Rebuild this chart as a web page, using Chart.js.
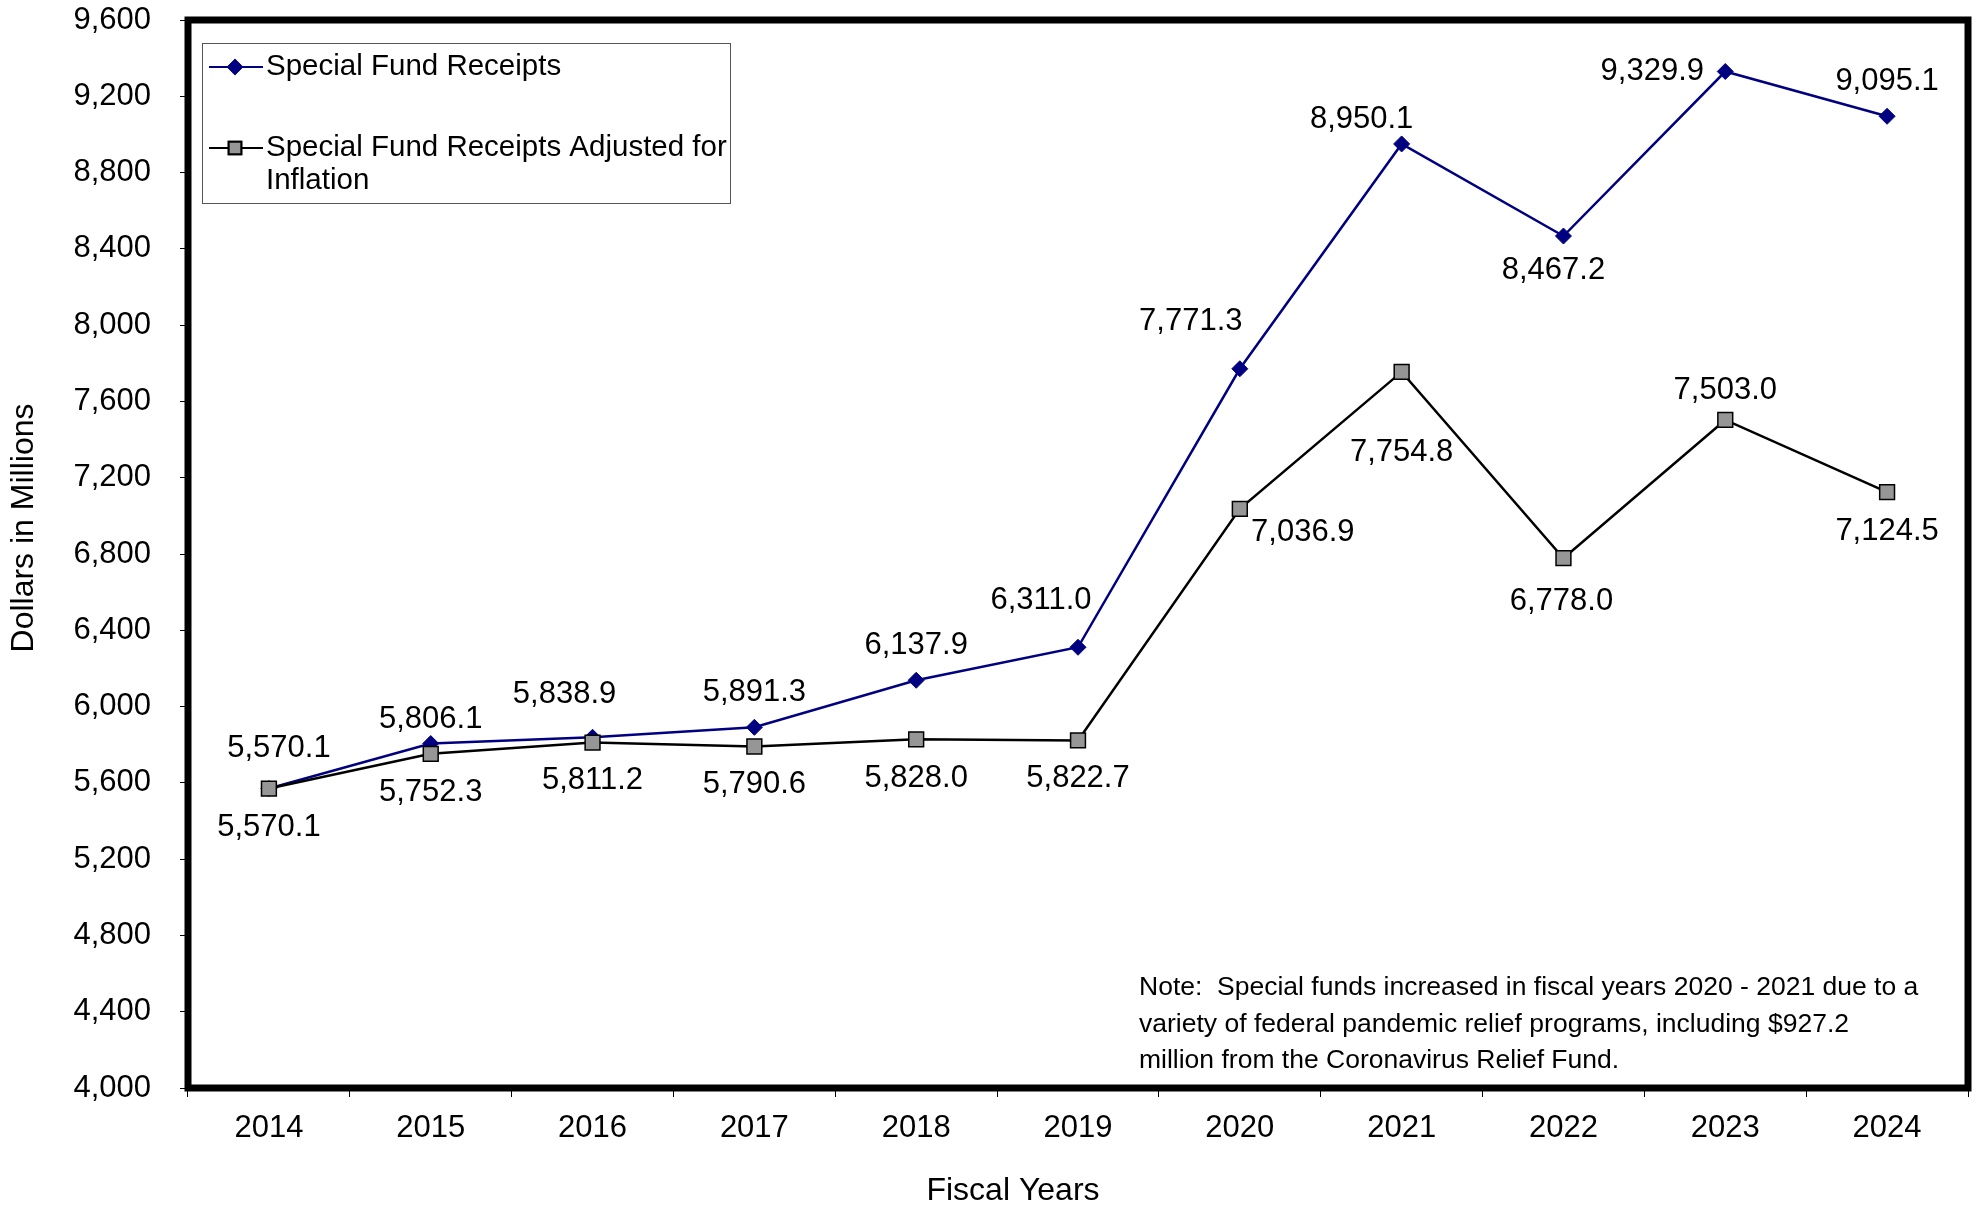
<!DOCTYPE html>
<html>
<head>
<meta charset="utf-8">
<script src="https://cdn.jsdelivr.net/npm/chart.js@4.4.1/dist/chart.umd.min.js"></script>
<style>
  html, body { margin: 0; padding: 0; background: #fff; }
  #wrap { width: 1980px; height: 1209px; }
</style>
</head>
<body>
<div id="wrap"><canvas id="miChart" width="1980" height="1209"></canvas></div>
<script>
// Datos del grafico
const fiscalYears = ['2014', '2015', '2016', '2017', '2018', '2019', '2020', '2021', '2022', '2023', '2024'];
const specialFundReceipts = [5570.1, 5806.1, 5838.9, 5891.3, 6137.9, 6311.0, 7771.3, 8950.1, 8467.2, 9329.9, 9095.1];
const adjustedForInflation = [5570.1, 5752.3, 5811.2, 5790.6, 5828.0, 5822.7, 7036.9, 7754.8, 6778.0, 7503.0, 7124.5];
const yTickValues = [4000, 4400, 4800, 5200, 5600, 6000, 6400, 6800, 7200, 7600, 8000, 8400, 8800, 9200, 9600];
const noteLines = [
  'Note:  Special funds increased in fiscal years 2020 - 2021 due to a',
  'variety of federal pandemic relief programs, including $927.2',
  'million from the Coronavirus Relief Fund.'
];

// Desplazamiento de etiquetas [dx, dy] respecto a cada punto
const labelOffsetsReceipts = [[10, -40], [0, -24], [-28, -43], [0, -35], [0, -35], [-37, -47], [-49, -47], [-40, -24], [-10, 34], [-73, 0], [0, -35]];
const labelOffsetsAdjusted = [[0, 39], [0, 39], [0, 38], [0, 38], [0, 39], [0, 38], [63, 24], [0, 81], [-2, 43], [0, -29], [0, 39]];

const FONT = 'Liberation Sans, Arial, sans-serif';
const fmt1 = v => v.toLocaleString('en-US', { minimumFractionDigits: 1, maximumFractionDigits: 1 });

// Marco negro grueso alrededor del area
const framePlugin = {
  id: 'frame',
  beforeDatasetsDraw(chart) {
    const { ctx, chartArea: a } = chart;
    ctx.save();
    ctx.strokeStyle = '#000';
    ctx.lineWidth = 7;
    ctx.strokeRect(a.left, a.top, a.right - a.left, a.bottom - a.top);
    ctx.restore();
  }
};

// Etiquetas de valores
const valueLabels = {
  id: 'valueLabels',
  afterDatasetsDraw(chart) {
    const { ctx } = chart;
    ctx.save();
    ctx.font = '31px ' + FONT;
    ctx.fillStyle = '#000';
    ctx.textAlign = 'center';
    ctx.textBaseline = 'middle';
    chart.data.datasets.forEach((ds, i) => {
      const meta = chart.getDatasetMeta(i);
      meta.data.forEach((pt, j) => {
        const [dx, dy] = ds.labelOffsets[j];
        ctx.fillText(fmt1(ds.data[j]), pt.x + dx, pt.y + dy);
      });
    });
    ctx.restore();
  }
};

// Leyenda dentro del area, titulos de ejes y nota
const boxLegend = {
  id: 'boxLegend',
  afterDraw(chart) {
    const { ctx } = chart;
    ctx.save();
    ctx.fillStyle = '#fff';
    ctx.fillRect(202, 43, 528, 160);
    ctx.strokeStyle = '#555';
    ctx.lineWidth = 1;
    ctx.strokeRect(202.5, 43.5, 528, 160);
    const rows = [
      { ds: chart.data.datasets[0], y: 67, lines: ['Special Fund Receipts'] },
      { ds: chart.data.datasets[1], y: 148, lines: ['Special Fund Receipts Adjusted for', 'Inflation'] }
    ];
    rows.forEach(r => {
      ctx.strokeStyle = r.ds.borderColor;
      ctx.lineWidth = 2;
      ctx.beginPath();
      ctx.moveTo(209, r.y);
      ctx.lineTo(263, r.y);
      ctx.stroke();
      Chart.helpers.drawPoint(ctx, {
        pointStyle: r.ds.pointStyle,
        radius: r.ds.pointRadius * 0.85,
        borderWidth: 1
      }, 235, r.y);
      ctx.fillStyle = r.ds.pointBackgroundColor;
      ctx.fill();
      ctx.strokeStyle = r.ds.pointBorderColor;
      ctx.stroke();
      ctx.fillStyle = '#000';
      ctx.font = '29.5px ' + FONT;
      ctx.textAlign = 'left';
      ctx.textBaseline = 'middle';
      r.lines.forEach((t, k) => ctx.fillText(t, 266, r.y + k * 33));
    });
    // titulos de ejes
    ctx.font = '32px ' + FONT;
    ctx.fillStyle = '#000';
    ctx.textAlign = 'center';
    ctx.textBaseline = 'middle';
    ctx.fillText('Fiscal Years', 1013, 1191);
    ctx.save();
    ctx.translate(24, 528);
    ctx.rotate(-Math.PI / 2);
    ctx.fillText('Dollars in Millions', 0, 0);
    ctx.restore();
    // nota
    ctx.font = '26.5px ' + FONT;
    ctx.textAlign = 'left';
    noteLines.forEach((t, k) => ctx.fillText(t, 1139, 988 + k * 36.5));
    ctx.restore();
  }
};

const miChart = document.querySelector('#miChart');
const fundsChart = new Chart(miChart, {
  type: 'line',
  data: {
    labels: fiscalYears,
    datasets: [
      {
        label: 'Special Fund Receipts',
        data: specialFundReceipts,
        labelOffsets: labelOffsetsReceipts,
        borderColor: '#000080',
        borderWidth: 2.5,
        pointStyle: 'rectRot',
        pointRadius: 8,
        pointBackgroundColor: '#000080',
        pointBorderColor: '#000080',
        pointBorderWidth: 1,
        tension: 0,
        order: 2
      },
      {
        label: 'Special Fund Receipts Adjusted for Inflation',
        data: adjustedForInflation,
        labelOffsets: labelOffsetsAdjusted,
        borderColor: '#000000',
        borderWidth: 2.5,
        pointStyle: 'rect',
        pointRadius: 10.5,
        pointBackgroundColor: '#969696',
        pointBorderColor: '#000000',
        pointBorderWidth: 1.5,
        tension: 0,
        order: 1
      }
    ]
  },
  options: {
    responsive: false,
    devicePixelRatio: 1,
    animation: false,
    layout: { padding: { left: 0, right: 9, top: 20, bottom: 0 } },
    plugins: { legend: { display: false }, tooltip: { enabled: false } },
    scales: {
      x: {
        offset: true,
        border: { display: false },
        grid: { drawOnChartArea: false, drawTicks: true, tickLength: 9, color: '#000', offset: true },
        ticks: { color: '#000', font: { family: FONT, size: 31 }, padding: 13, maxRotation: 0 },
        afterFit(scale) { scale.height = 121; scale.paddingLeft = 0; scale.paddingRight = 0; }
      },
      y: {
        min: 4000,
        max: 9600,
        border: { display: false },
        grid: { drawOnChartArea: false, drawTicks: true, tickLength: 8, color: '#000' },
        afterBuildTicks(scale) { scale.ticks = yTickValues.map(v => ({ value: v })); },
        ticks: {
          color: '#000',
          font: { family: FONT, size: 31 },
          padding: 29,
          callback: v => v.toLocaleString('en-US')
        },
        afterFit(scale) { scale.width = 188; scale.paddingTop = 0; scale.paddingBottom = 0; }
      }
    }
  },
  plugins: [framePlugin, valueLabels, boxLegend]
});
</script>
</body>
</html>
